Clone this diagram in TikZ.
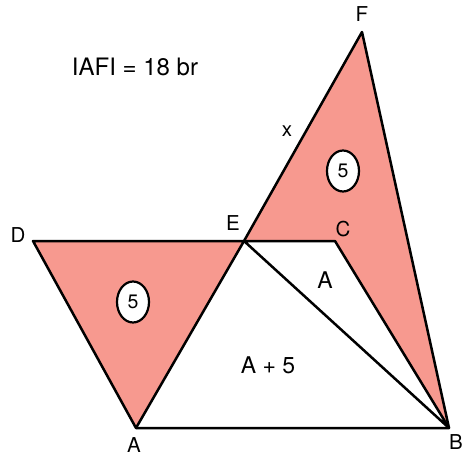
\documentclass[tikz,border=0pt]{standalone}
\usepackage{fontspec}
\setmainfont{TeX Gyre Heros}
\usepackage{tikz}
\usetikzlibrary{calc, positioning, shapes.geometric}
\definecolor{salmon}{RGB}{247,153,143}

\begin{document}
\begin{tikzpicture}[x=1pt, y=-1pt]
    \tikzset{
        edge line/.style={line width=2.5pt, line join=round},
        pt label/.style={inner sep=0pt, font=\fontsize{20.5}{24}\selectfont},
        area text/.style={inner sep=0pt, font=\fontsize{23}{27}\selectfont},
        area oval/.style={
            ellipse, draw, fill=white, line width=2.2pt, inner sep=0pt,
            minimum width=32pt, minimum height=41pt,
            font=\fontsize{19.5}{23}\selectfont
        }
    }

    \useasboundingbox (0,0) rectangle (464,456);

    \coordinate (A) at (136,428);
    \coordinate (B) at (449,428);
    \coordinate (C) at (335,241);
    \coordinate (D) at (33,241);
    \coordinate (E) at (244,241);
    \coordinate (F) at (362,32);

    % shaded pieces
    \fill[salmon] (D) -- (E) -- (A) -- cycle;
    \fill[salmon] (E) -- (F) -- (B) -- (C) -- cycle;

    \draw[edge line] (D) -- (E) -- (A) -- cycle;
    \draw[edge line] (A) -- (B) -- (F) -- (E);
    \draw[edge line] (E) -- (C) -- (B) -- cycle;

    \node[pt label] (labD) at (18,235) {D};
    \node[pt label] (labE) at (233,223) {E};
    \node[pt label] (labC) at (343,229) {C};
    \node[pt label] (labF) at (362,14) {F};
    \node[pt label] (labA) at (134,445) {A};
    \node[pt label] (labB) at (456,442) {B};
    \node[pt label] (sideX) at (287,131) {x};

    \node[area oval] (ovalL) at (133,302) {5};
    \node[area oval] (ovalR) at (343,171) {5};

    \node[area text] (areaA) at (325,280) {A};
    \node[area text] (areaA5) at (268,365) {A + 5};
    \node[area text, font=\fontsize{24}{28}\selectfont] (total) at (135,67) {IAFI = 18 br};

\end{tikzpicture}
\end{document}
